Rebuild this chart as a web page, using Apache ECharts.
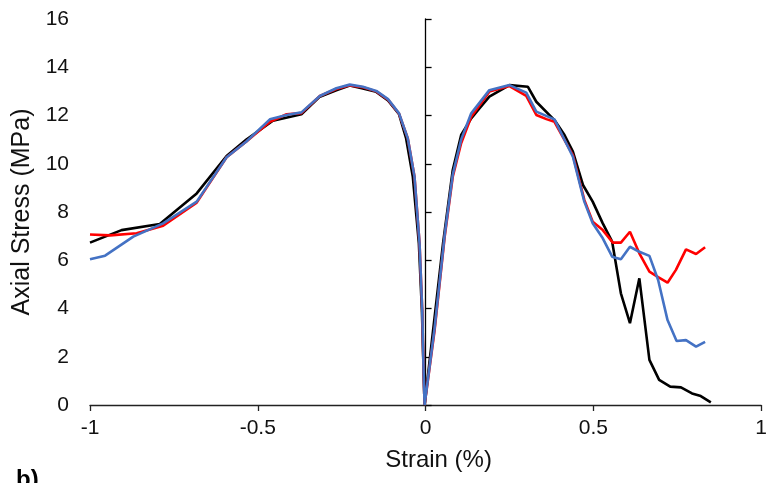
<!DOCTYPE html>
<html>
<head>
<meta charset="utf-8">
<script src="https://cdn.jsdelivr.net/npm/echarts@6/dist/echarts.min.js"></script>
<style>
  html, body { margin: 0; padding: 0; background: #fff; }
  #chart { width: 770px; height: 483px; }
</style>
</head>
<body>
<div id="chart"></div>
<script>
// Axis ticks
const xTicks = [-1, -0.5, 0, 0.5, 1];
const yTicks = [0, 2, 4, 6, 8, 10, 12, 14, 16];

// Specimen 1 (black)
const strainBlack = [-1.0, -0.906, -0.792, -0.682, -0.593, -0.534, -0.455, -0.370, -0.315, -0.266, -0.226, -0.187, -0.147, -0.112, -0.079, -0.058, -0.038, -0.020, -0.011, -0.006, -0.003,
  0, 0.052, 0.081, 0.106, 0.136, 0.161, 0.190, 0.250, 0.305, 0.330, 0.384, 0.414, 0.439, 0.469, 0.498, 0.528, 0.556, 0.582, 0.609, 0.637, 0.667, 0.696, 0.729, 0.761, 0.794, 0.820, 0.850];
const stressBlack = [6.73, 7.25, 7.50, 8.77, 10.32, 11.0, 11.78, 12.05, 12.78, 13.05, 13.24, 13.12, 12.98, 12.62, 12.05, 11.05, 9.46, 6.70, 3.94, 1.45, 0,
  0, 6.70, 9.74, 11.19, 11.88, 12.30, 12.78, 13.26, 13.19, 12.57, 11.81, 11.19, 10.5, 9.12, 8.43, 7.53, 6.77, 4.63, 3.39, 5.25, 1.87, 1.04, 0.76, 0.73, 0.48, 0.37, 0.11];

// Specimen 2 (red)
const strainRed = [-1.0, -0.94, -0.861, -0.782, -0.682, -0.593, -0.534, -0.464, -0.414, -0.370, -0.315, -0.266, -0.226, -0.187, -0.147, -0.112, -0.079, -0.053, -0.033, -0.018, -0.010, -0.006, -0.003,
  0, 0.027, 0.057, 0.081, 0.106, 0.136, 0.190, 0.250, 0.300, 0.330, 0.360, 0.384, 0.439, 0.473, 0.498, 0.528, 0.558, 0.582, 0.609, 0.637, 0.667, 0.693, 0.721, 0.746, 0.776, 0.806, 0.833];
const stressRed = [7.07, 7.03, 7.12, 7.43, 8.39, 10.27, 10.92, 11.74, 12.05, 12.10, 12.81, 13.10, 13.25, 13.17, 13.0, 12.66, 12.07, 11.05, 9.46, 6.70, 3.94, 1.45, 0,
  0, 3.11, 6.98, 9.46, 10.85, 11.95, 12.99, 13.22, 12.81, 12.02, 11.85, 11.74, 10.36, 8.50, 7.60, 7.25, 6.73, 6.73, 7.18, 6.29, 5.53, 5.30, 5.07, 5.60, 6.45, 6.26, 6.54];

// Specimen 3 (blue)
const strainBlue = [-1.0, -0.955, -0.871, -0.782, -0.682, -0.593, -0.534, -0.464, -0.414, -0.370, -0.315, -0.266, -0.226, -0.187, -0.147, -0.112, -0.079, -0.053, -0.033, -0.018, -0.010, -0.006, -0.003,
  0, 0.027, 0.057, 0.081, 0.106, 0.136, 0.190, 0.250, 0.300, 0.330, 0.384, 0.439, 0.473, 0.498, 0.528, 0.556, 0.582, 0.609, 0.637, 0.667, 0.693, 0.721, 0.748, 0.776, 0.806, 0.833];
const stressBlue = [6.04, 6.19, 6.98, 7.53, 8.43, 10.27, 10.92, 11.84, 12.02, 12.13, 12.81, 13.13, 13.28, 13.19, 13.02, 12.68, 12.09, 11.05, 9.46, 6.70, 3.94, 1.45, 0,
  0, 3.2, 7.05, 9.55, 11.0, 12.09, 13.05, 13.26, 12.95, 12.16, 11.84, 10.29, 8.43, 7.53, 6.91, 6.15, 6.04, 6.56, 6.35, 6.18, 5.18, 3.52, 2.65, 2.69, 2.42, 2.62];

const pairs = (xs, ys) => xs.map((x, i) => [x, ys[i]]);
const font = 'Liberation Sans, Arial, sans-serif';

const chart = echarts.init(document.getElementById('chart'), null, { renderer: 'canvas' });

const lineSeries = (data, color) => ({
  type: 'line',
  data: data,
  showSymbol: false,
  symbol: 'none',
  smooth: false,
  lineStyle: { color: color, width: 2.6 },
  z: 2
});

chart.setOption({
  animation: false,
  backgroundColor: '#ffffff',
  grid: { left: 90, right: 8, top: 19, bottom: 78, containLabel: false },
  xAxis: {
    type: 'value',
    min: xTicks[0],
    max: xTicks[xTicks.length - 1],
    interval: 0.5,
    name: 'Strain (%)',
    nameLocation: 'middle',
    nameGap: 43,
    nameTextStyle: { fontFamily: font, fontSize: 24, color: '#111', padding: [0, 0, 0, 26] },
    axisLine: { onZero: false, lineStyle: { color: '#222', width: 1.3 } },
    axisTick: { show: true, inside: false, length: 6, lineStyle: { color: '#222', width: 1.3 } },
    axisLabel: {
      fontFamily: font, fontSize: 21, color: '#111', margin: 13,
      formatter: v => String(v)
    },
    splitLine: { show: false }
  },
  yAxis: [
    {
      // axis line drawn through zero strain, ticks only
      type: 'value',
      min: yTicks[0],
      max: yTicks[yTicks.length - 1],
      interval: 2,
      axisLine: { show: true, onZero: true, lineStyle: { color: '#000', width: 1.3 } },
      axisTick: { show: true, inside: true, length: 6, lineStyle: { color: '#000', width: 1.3 } },
      axisLabel: { show: false },
      splitLine: { show: false }
    },
    {
      // tick labels and title at the left edge of the plot
      type: 'value',
      position: 'left',
      min: yTicks[0],
      max: yTicks[yTicks.length - 1],
      interval: 2,
      name: 'Axial Stress (MPa)',
      nameLocation: 'middle',
      nameGap: 54,
      nameTextStyle: { fontFamily: font, fontSize: 25, color: '#111' },
      axisLine: { show: false, onZero: false },
      axisTick: { show: false },
      axisLabel: { fontFamily: font, fontSize: 21, color: '#111', margin: 21 },
      splitLine: { show: false }
    }
  ],
  series: [
    lineSeries(pairs(strainBlack, stressBlack), '#000000'),
    lineSeries(pairs(strainRed, stressRed), '#ff0000'),
    lineSeries(pairs(strainBlue, stressBlue), '#4472c4')
  ],
  graphic: [
    {
      type: 'text',
      left: 16,
      top: 468,
      style: { text: 'b)', font: 'bold 24px ' + font, fill: '#000' }
    }
  ]
});
</script>
</body>
</html>
